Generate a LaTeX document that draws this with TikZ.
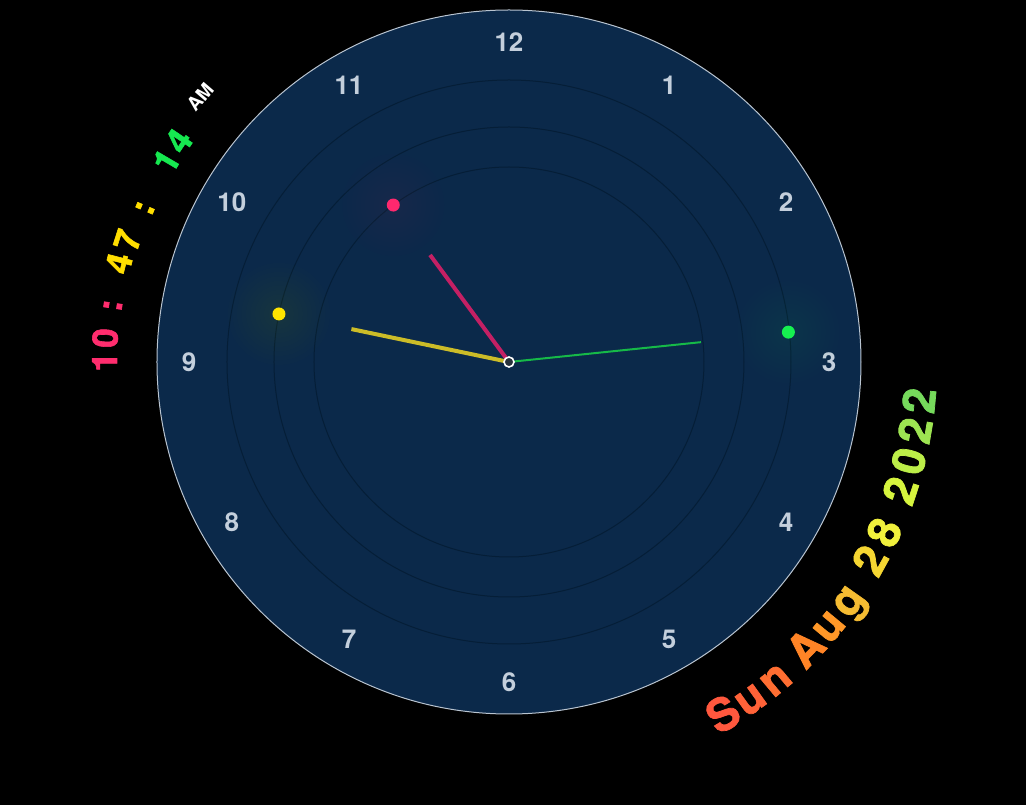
\documentclass[tikz,border=0pt]{standalone}
\usepackage{fontspec}
\setmainfont{TeX Gyre Heros}
\newfontfamily\heavyfont{TeX Gyre Heros}[BoldFeatures={FakeBold=1.6}]
\definecolor{face}{RGB}{11,41,74}
\definecolor{rim}{RGB}{185,196,208}
\definecolor{ringc}{RGB}{5,30,55}
\definecolor{numc}{RGB}{196,207,220}
\definecolor{hourhand}{RGB}{196,32,100}
\definecolor{hourdot}{RGB}{255,40,110}
\definecolor{minhand}{RGB}{204,188,40}
\definecolor{mindot}{RGB}{255,228,0}
\definecolor{sechand}{RGB}{22,185,72}
\definecolor{secdot}{RGB}{22,240,80}
\definecolor{hubc}{RGB}{40,50,60}
\definecolor{tpink}{RGB}{255,45,110}
\definecolor{tyellow}{RGB}{255,222,0}
\definecolor{tgreen}{RGB}{22,232,80}
\definecolor{d1}{RGB}{255,88,62}
\definecolor{d2}{RGB}{255,98,56}
\definecolor{d3}{RGB}{255,110,50}
\definecolor{d4}{RGB}{255,132,38}
\definecolor{d5}{RGB}{255,152,40}
\definecolor{d6}{RGB}{245,188,50}
\definecolor{d7}{RGB}{245,214,50}
\definecolor{d8}{RGB}{240,240,60}
\definecolor{d9}{RGB}{214,244,62}
\definecolor{d10}{RGB}{188,238,72}
\definecolor{d11}{RGB}{158,228,82}
\definecolor{d12}{RGB}{118,218,92}
\tikzset{
  num/.style={text=numc, font=\bfseries\fontsize{26}{30}\selectfont, inner sep=0pt},
  ringline/.style={draw=ringc, line width=1pt},
  timechar/.style={font=\heavyfont\bfseries\fontsize{35}{38}\selectfont, inner sep=0pt, anchor=base},
  datechar/.style={font=\heavyfont\bfseries\fontsize{45}{48}\selectfont, inner sep=0pt, anchor=base},
  ampm/.style={font=\bfseries\fontsize{19}{22}\selectfont, inner sep=0pt, anchor=base, text=white},
}
\begin{document}
\begin{tikzpicture}[x=1pt,y=1pt]
\fill[black] (-509,-443) rectangle (517,362);
\useasboundingbox (-509,-443) rectangle (517,362);
% face
\fill[face] (0,0) circle (352);
\draw[draw=rim, line width=1pt] (0,0) circle (352);
\draw[ringline] (0,0) circle (195);
\draw[ringline] (0,0) circle (235);
\draw[ringline] (0,0) circle (282);
% numbers
\foreach \n in {1,...,12}
  \node[num] (n\n) at ({90-30*\n}:320) {\n};
% glows and dots
\coordinate (hd) at (126.4:195);
\coordinate (md) at (168.2:235);
\coordinate (sd) at (6.1:281);
\foreach \k in {1,...,10} {
  \fill[hourdot, opacity=0.009] (hd) circle ({6+4.5*\k});
  \fill[mindot, opacity=0.007] (md) circle ({6+4.5*\k});
  \fill[secdot, opacity=0.009] (sd) circle ({6+4.5*\k});
}
\fill[hourdot] (hd) circle (6.5);
\fill[mindot] (md) circle (6.5);
\fill[secdot] (sd) circle (6.5);
% hands
\coordinate (c) at (0,0);
\coordinate (he) at (126.4:133);
\coordinate (me) at (168.2:161);
\coordinate (se) at (5.9:193);
\draw[hourhand, line width=4pt] (c) -- (he);
\draw[minhand, line width=4pt] (c) -- (me);
\draw[sechand, line width=2pt] (c) -- (se);
\node[circle, draw=white, fill=hubc, line width=1.6pt, minimum size=10pt, inner sep=0pt] (hub) at (c) {};
% time text
\foreach \a/\r/\col/\t [count=\i] in {
  180/392/tpink/1, 176.6/392/tpink/0, 171.9/391/tpink/:,
  165.8/390/tyellow/4, 162.3/388/tyellow/7, 157.1/386/tyellow/:,
  149.6/385/tgreen/1, 146.2/385/tgreen/4}
  \node[timechar, text=\col, rotate=\a-90] (tc\i) at (\a:\r) {\t};
\node[ampm, rotate=49.4] (am) at (139.4:400) {AM};
% date text
\foreach \a/\col/\t [count=\i] in {
  -58.7/d1/S, -54.4/d2/u, -50.0/d3/n,
  -44.0/d4/A, -39.6/d5/u, -35.2/d6/g,
  -28.8/d7/2, -24.4/d8/8,
  -18.2/d9/2, -13.9/d10/0, -9.6/d11/2, -5.4/d12/2}
  \node[datechar, text=\col, rotate=\a+90] (dc\i) at (\a:428) {\t};
\end{tikzpicture}
\end{document}
